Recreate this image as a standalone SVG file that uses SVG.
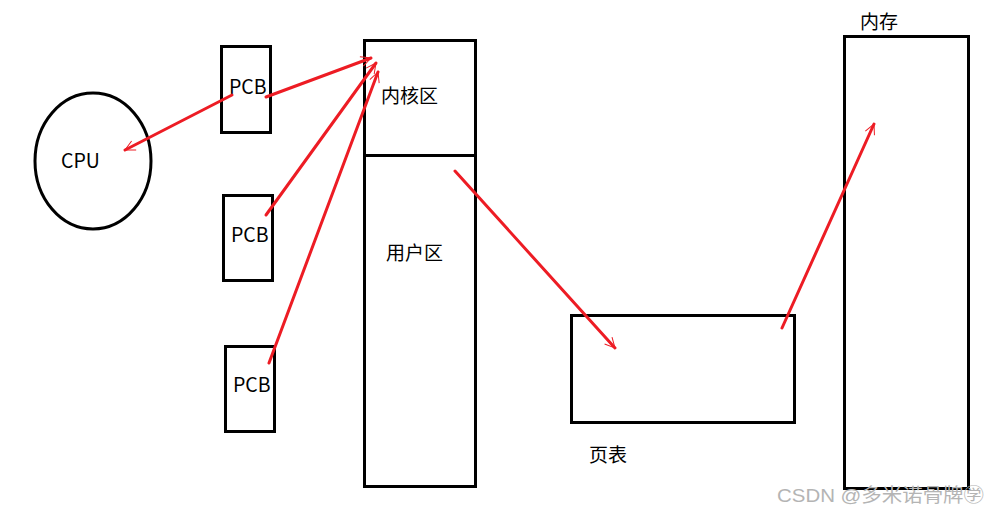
<svg xmlns="http://www.w3.org/2000/svg" width="990" height="515" viewBox="0 0 990 515">
<defs>
<style>
.box{fill:none;stroke:#000;stroke-width:3}
.t{font-family:"Noto Sans CJK SC","Liberation Sans",sans-serif;font-size:19.5px;fill:#000}
.c{font-family:"Noto Sans CJK SC","Liberation Sans",sans-serif;font-size:19px;fill:#000}
.r{stroke:#ed1c24;stroke-width:3;fill:none;stroke-linecap:round}
.wm{font-family:"Liberation Sans","Noto Sans CJK SC",sans-serif;font-size:19px;fill:#b4b4b4}
</style>
<marker id="ah" viewBox="0 0 12 12" refX="11" refY="6" markerWidth="12" markerHeight="12" markerUnits="userSpaceOnUse" orient="auto">
<path d="M1,1 L11,6 L1,11" fill="none" stroke="#ed1c24" stroke-width="1"/>
</marker>
</defs>
<rect width="990" height="515" fill="#fff"/>
<g id="cpu"><ellipse class="box" cx="93" cy="161" rx="58" ry="68"/><text class="t" x="61" y="168">CPU</text></g>
<g id="pcb1"><rect class="box" x="221.5" y="46.5" width="49" height="86"/><text class="t" x="229" y="94">PCB</text></g>
<g id="pcb2"><rect class="box" x="223.5" y="195.5" width="49" height="85"/><text class="t" x="231" y="242">PCB</text></g>
<g id="pcb3"><rect class="box" x="225.5" y="346.5" width="49" height="85"/><text class="t" x="233" y="392">PCB</text></g>
<g id="kernel"><rect class="box" x="364.5" y="40.5" width="111" height="446"/><line class="box" x1="364.5" y1="155.5" x2="475.5" y2="155.5"/><text class="c" x="381" y="103">内核区</text><text class="c" x="386" y="260">用户区</text></g>
<g id="pagetable"><rect class="box" x="571.5" y="315.5" width="223" height="107"/><text class="c" x="589" y="462">页表</text></g>
<g id="memory"><rect class="box" x="844.5" y="36.5" width="124" height="452"/><text class="c" x="860" y="29">内存</text></g>
<g id="connectors">
<line class="r" x1="232" y1="95" x2="125" y2="150" marker-end="url(#ah)"/>
<line class="r" x1="266" y1="97" x2="371" y2="58" marker-end="url(#ah)"/>
<line class="r" x1="266" y1="215" x2="376" y2="63" marker-end="url(#ah)"/>
<line class="r" x1="269" y1="363" x2="378" y2="72" marker-end="url(#ah)"/>
<line class="r" x1="455" y1="171" x2="615" y2="348" marker-end="url(#ah)"/>
<line class="r" x1="782" y1="328" x2="874" y2="124" marker-end="url(#ah)"/>
</g>
<text class="wm" x="777" y="502" textLength="207" lengthAdjust="spacingAndGlyphs">CSDN @多米诺骨牌㊫</text>
</svg>
